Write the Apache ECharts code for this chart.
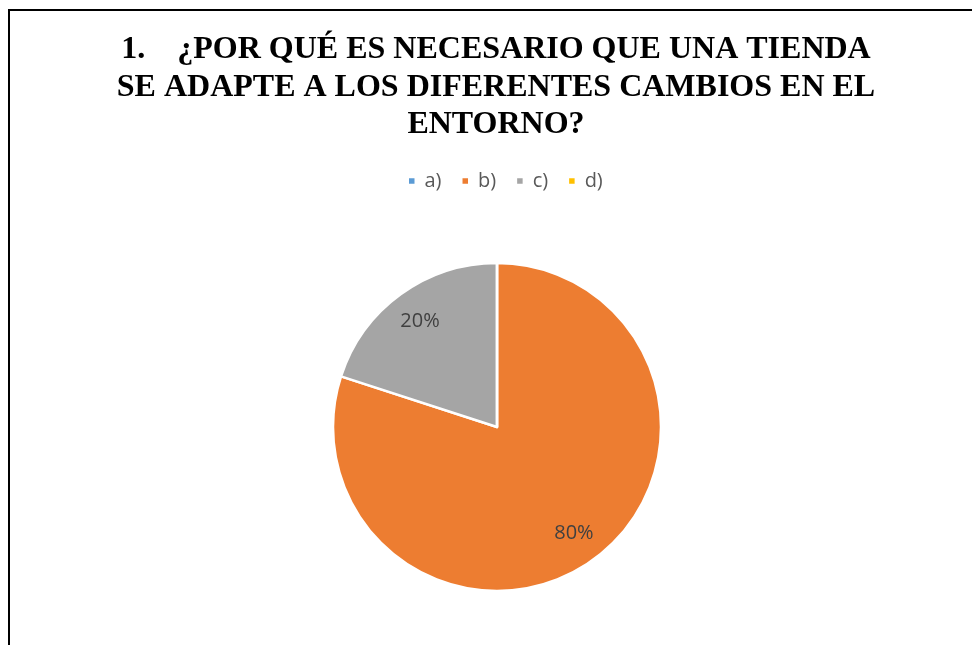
<!DOCTYPE html>
<html>
<head>
<meta charset="utf-8">
<script src="https://cdn.jsdelivr.net/npm/echarts@6/dist/echarts.min.js"></script>
<style>
  html, body { margin: 0; padding: 0; background: #fff; }
  #chart { width: 972px; height: 645px; }
</style>
</head>
<body>
<div id="chart"></div>
<script>
// Survey answers for question 1
const titleLines = [
  '1.    ¿POR QUÉ ES NECESARIO QUE UNA TIENDA',
  'SE ADAPTE A LOS DIFERENTES CAMBIOS EN EL',
  'ENTORNO?'
];
const categories = ['a)', 'b)', 'c)', 'd)'];
const shares = [0, 80, 20, 0];
const palette = ['#5B9BD5', '#ED7D31', '#A5A5A5', '#FFC000'];

const pieData = categories.map((name, i) => ({ name: name, value: shares[i] }));

const chart = echarts.init(document.getElementById('chart'), null, { renderer: 'canvas' });

const center = [497, 427];
const radius = 164;
const smallFont = '"Open Sans", Lato, sans-serif';

chart.setOption({
  animation: false,
  color: palette,
  title: {
    text: titleLines.join('\n'),
    left: 496,
    top: 31,
    padding: 0,
    textAlign: 'center',
    textStyle: {
      fontFamily: '"Liberation Serif", "Times New Roman", serif',
      fontWeight: 'bold',
      fontSize: 32,
      lineHeight: 37.5,
      color: '#000'
    }
  },
  legend: {
    data: categories,
    left: 407,
    top: 171,
    padding: 0,
    icon: 'rect',
    itemWidth: 7.5,
    itemHeight: 7.5,
    itemGap: 19,
    textStyle: {
      fontFamily: smallFont,
      fontSize: 20,
      color: '#595959',
      padding: [0, 0, 0, 4]
    }
  },
  graphic: [
    {
      type: 'polyline',
      silent: true,
      shape: { points: [[9, 645], [9, 10], [972, 10]] },
      style: { stroke: '#000', lineWidth: 2, fill: null }
    }
  ],
  series: [
    {
      type: 'pie',
      center: center,
      radius: [0, radius],
      startAngle: 90,
      clockwise: true,
      data: pieData,
      label: { show: false },
      labelLine: { show: false },
      itemStyle: { borderColor: '#fff', borderWidth: 2.5 },
      emphasis: { disabled: true }
    },
    {
      // label ring: places the percentage text at ~78% of the radius
      type: 'pie',
      center: center,
      radius: [radius * 0.56, radius],
      startAngle: 90,
      clockwise: true,
      silent: true,
      data: pieData,
      itemStyle: { color: 'rgba(0,0,0,0)', borderWidth: 0 },
      label: {
        show: true,
        position: 'inside',
        formatter: p => (p.value > 0 ? p.value + '%' : ''),
        fontFamily: smallFont,
        fontSize: 20,
        color: '#404040'
      },
      labelLine: { show: false },
      emphasis: { disabled: true }
    }
  ]
});
</script>
</body>
</html>
